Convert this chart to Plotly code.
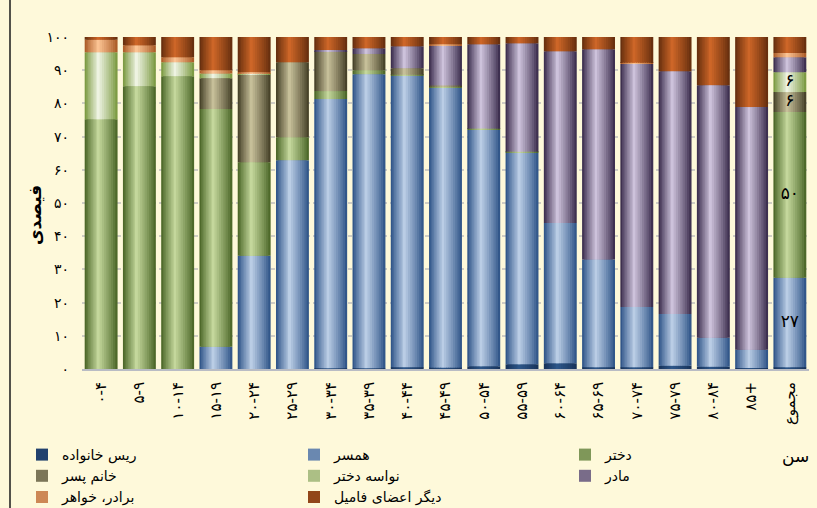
import plotly.graph_objects as go
import numpy as np

# ---------------- data ----------------
categories = ["۰-۴", "۵-۹", "۱۰-۱۴", "۱۵-۱۹", "۲۰-۲۴", "۲۵-۲۹", "۳۰-۳۴", "۳۵-۳۹",
              "۴۰-۴۴", "۴۵-۴۹", "۵۰-۵۴", "۵۵-۵۹", "۶۰-۶۴", "۶۵-۶۹", "۷۰-۷۴",
              "۷۵-۷۹", "۸۰-۸۴", "۸۵+", "مجموع"]

head_of_household = [0, 0, 0, 0, 0, 0, 0.2, 0.2, 0.5, 0.4, 0.8, 1.4, 1.7, 0.5, 0.5, 1.0, 0.7, 0.3, 0.5]
spouse = [0, 0, 0, 6.7, 34.1, 62.9, 81.1, 88.6, 87.8, 84.3, 71.2, 63.8, 42.3, 32.5, 18.2, 15.6, 8.7, 5.5, 27.0]
daughter = [75.2, 85.2, 88.2, 71.6, 28.2, 6.9, 2.4, 1.2, 0.3, 0.4, 0.4, 0.2, 0, 0, 0, 0, 0, 0, 49.9]
daughter_in_law = [0, 0, 0, 9.3, 26.5, 22.6, 12.0, 4.9, 2.0, 0.3, 0, 0, 0, 0, 0, 0, 0, 0, 6.0]
granddaughter = [20.2, 10.2, 4.2, 1.4, 0.2, 0, 0, 0, 0, 0, 0, 0, 0, 0, 0, 0, 0, 0, 6.0]
mother = [0, 0, 0, 0, 0, 0, 0.4, 1.7, 6.6, 12.1, 25.4, 32.7, 51.7, 63.3, 73.2, 73.1, 76.1, 73.1, 4.5]
sibling = [3.8, 2.1, 1.5, 1.0, 0.4, 0, 0, 0, 0, 0.3, 0, 0, 0, 0, 0.3, 0, 0, 0, 1.3]
other_relatives = [0.8, 2.5, 6.1, 10.0, 10.6, 7.6, 3.9, 3.4, 2.8, 2.2, 2.2, 1.9, 4.3, 3.7, 7.8, 10.3, 14.5, 21.1, 4.8]

series_names = ["ریس خانواده", "همسر", "دختر", "خانم پسر", "نواسه دختر", "مادر",
                "برادر، خواهر", "دیگر اعضای فامیل"]
series_values = [head_of_household, spouse, daughter, daughter_in_law, granddaughter,
                 mother, sibling, other_relatives]
# (edge colour, centre colour) for the cylinder-like shading
series_colors = [("#18335a", "#2d5688"), ("#32578a", "#bacde5"), ("#4e692a", "#c4d79c"),
                 ("#48432a", "#c6bf99"), ("#7d9b44", "#eef3e2"), ("#3e3050", "#cdc2db"),
                 ("#ad5e2a", "#fbc393"), ("#68300f", "#cd6628")]
legend_groups = ["legend", "legend2", "legend3", "legend", "legend2", "legend3", "legend", "legend2"]
labelled_series = [1, 2, 3, 4]   # values written on the total bar

yticks = [0, 10, 20, 30, 40, 50, 60, 70, 80, 90, 100]

FA = str.maketrans("0123456789", "۰۱۲۳۴۵۶۷۸۹")
def fa(n):
    return str(n).translate(FA)

ytick_text = [fa(v) for v in yticks]

# ---------------- figure ----------------
fig = go.Figure()

values = np.array(series_values, dtype=float)
bases = np.vstack([np.zeros(values.shape[1]), np.cumsum(values, axis=0)[:-1]])

W = 0.86        # bar width (category units)
PEAK = 0.42     # relative position of the highlight
N_LAYERS = 9
FMIN = 0.06
LEGEND_LAYER = 3


def mix(c1, c2, t):
    a = np.array([int(c1[i:i + 2], 16) for i in (1, 3, 5)], dtype=float)
    b = np.array([int(c2[i:i + 2], 16) for i in (1, 3, 5)], dtype=float)
    c = a + (b - a) * t
    return "rgb(%d,%d,%d)" % tuple(np.round(c).astype(int))


for k in range(N_LAYERS):
    t = k / (N_LAYERS - 1)
    f = 1 - t * (1 - FMIN)
    offset = -W / 2 + (1 - f) * PEAK * W
    for s, name in enumerate(series_names):
        edge, centre = series_colors[s]
        fig.add_trace(go.Bar(
            x=categories, y=values[s], base=bases[s], name=name,
            width=f * W, offset=offset,
            marker=dict(color=mix(edge, centre, t ** 0.9), line=dict(width=0)),
            showlegend=(k == LEGEND_LAYER), legend=legend_groups[s],
            hoverinfo="skip" if k else None,
        ))

# value labels on the total bar
lab_x, lab_y, lab_t = [], [], []
last = len(categories) - 1
for s in labelled_series:
    lab_x.append(categories[last])
    lab_y.append(bases[s][last] + values[s][last] / 2)
    lab_t.append(fa(int(round(values[s][last]))))
fig.add_trace(go.Scatter(x=lab_x, y=lab_y, text=lab_t, mode="text", showlegend=False,
                         textfont=dict(family="DejaVu Sans", size=17, color="#000000"),
                         cliponaxis=False, hoverinfo="skip"))

BG = "#FEF9DA"
L, R, T, B = 82, 8, 37, 139
PW = 817 - L - R
PH = 508 - T - B


def px_x(p):
    return (p - L) / PW


def px_y(p):
    return (508 - B - p) / PH


legend_common = dict(orientation="v", xanchor="left", yanchor="top", bgcolor="rgba(0,0,0,0)",
                     font=dict(family="DejaVu Sans", size=14, color="#000000"),
                     tracegroupgap=0, itemwidth=30, traceorder="normal")

fig.update_layout(
    width=817, height=508,
    margin=dict(l=L, r=R, t=T, b=B, autoexpand=False),
    paper_bgcolor=BG, plot_bgcolor=BG,
    barmode="overlay",
    font=dict(family="DejaVu Sans", color="#000000"),
    xaxis=dict(type="category", categoryorder="array", categoryarray=categories,
               range=[-0.5, len(categories) - 0.5], tickangle=-90,
               tickfont=dict(family="DejaVu Sans", size=15, color="#000000"),
               showline=True, linecolor="#b9bcc4", linewidth=2, ticks="",
               ticklabelstandoff=5,
               showgrid=False, zeroline=False, automargin=False),
    yaxis=dict(range=[0, 100], tickvals=yticks, ticktext=ytick_text,
               tickfont=dict(family="DejaVu Sans", size=14, color="#000000"),
               showgrid=True, gridcolor="#cfcdc4", gridwidth=1.5, griddash="4px,3px",
               zeroline=False, showline=False, ticks="", ticklabelstandoff=12,
               automargin=False),
    legend=dict(x=px_x(22), y=px_y(439), **legend_common),
    legend2=dict(x=px_x(294), y=px_y(439), **legend_common),
    legend3=dict(x=px_x(565), y=px_y(439), **legend_common),
    annotations=[
        dict(text="<b>فیصدی</b>", xref="paper", yref="paper", x=px_x(35), y=px_y(215),
             xanchor="center", yanchor="middle", textangle=-90, showarrow=False,
             font=dict(family="DejaVu Sans", size=17, color="#000000")),
        dict(text="سن", xref="paper", yref="paper", x=px_x(795), y=px_y(456),
             xanchor="center", yanchor="middle", showarrow=False,
             font=dict(family="DejaVu Sans", size=17, color="#000000")),
    ],
    shapes=[
        dict(type="line", xref="paper", yref="paper", x0=px_x(10), x1=px_x(10),
             y0=px_y(508), y1=px_y(0), line=dict(color="#1a1a1a", width=1.5)),
    ],
)

fig.write_html("out.html", config={"displayModeBar": False},
               post_script="document.body.style.margin='0';")
